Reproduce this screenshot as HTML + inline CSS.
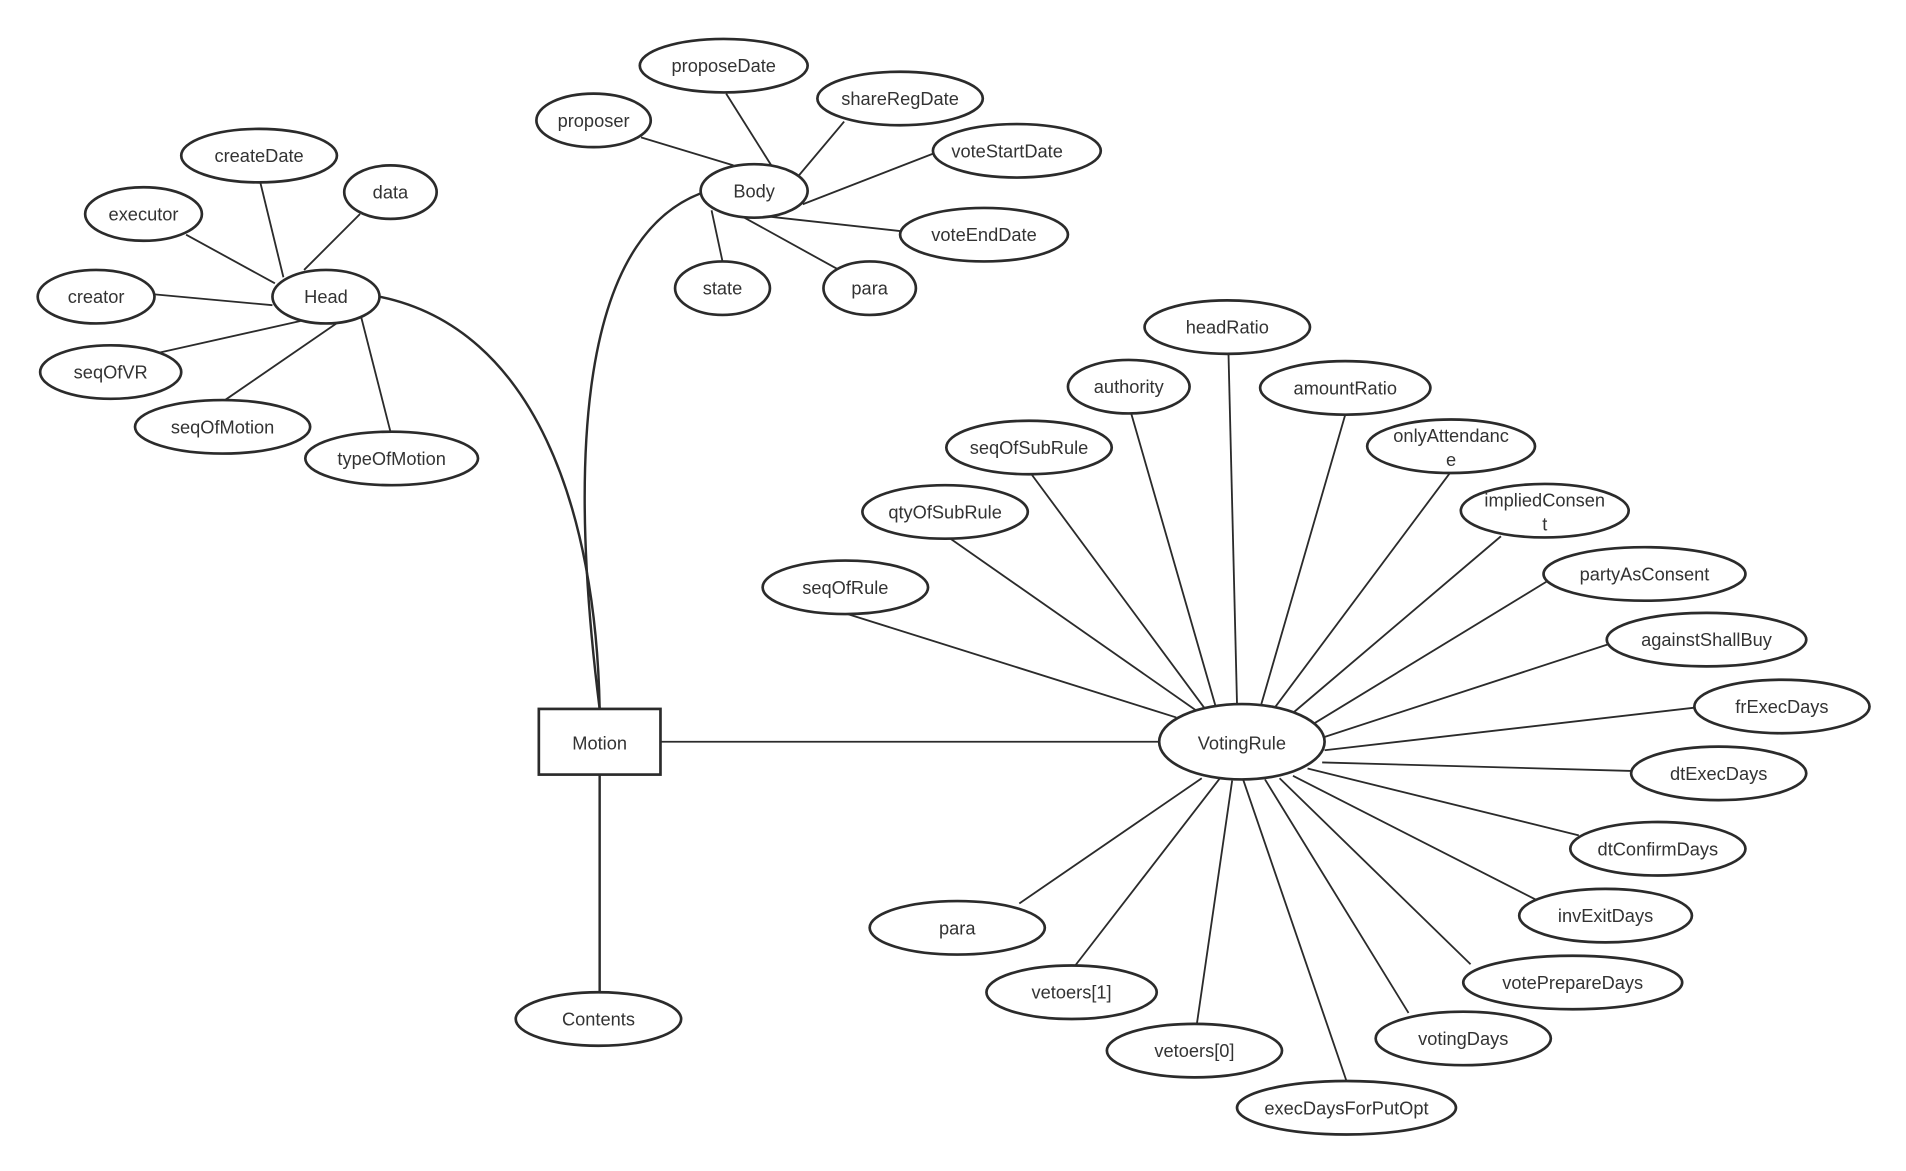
<!DOCTYPE html>
<html><head><meta charset="utf-8"><style>
html,body{margin:0;padding:0;background:#fff;}
svg{display:block;}
text{font-family:"Liberation Sans",sans-serif;font-size:15px;fill:#333;text-anchor:middle;dominant-baseline:central;}
</style></head><body>
<svg width="1906" height="1171" viewBox="0 0 1567 963" preserveAspectRatio="none" xmlns="http://www.w3.org/2000/svg">
<g stroke="#2b2b2b" stroke-width="1.5" fill="none">
<line x1="214" y1="150" x2="233" y2="228"/>
<line x1="296" y1="176" x2="250" y2="222"/>
<line x1="153" y1="193" x2="226" y2="233"/>
<line x1="126" y1="242" x2="224" y2="251"/>
<line x1="131" y1="290" x2="247" y2="264"/>
<line x1="185" y1="329" x2="278" y2="265"/>
<line x1="321" y1="355" x2="297" y2="261"/>
<path d="M312,244 C440,270 490,420 493,583" stroke-width="2"/>
<path d="M576,159 C470,200 470,400 493,583" stroke-width="2"/>
<line x1="527" y1="113" x2="603" y2="136"/>
<line x1="597" y1="77" x2="636" y2="139"/>
<line x1="694" y1="100" x2="657" y2="144"/>
<line x1="768" y1="126" x2="660" y2="168"/>
<line x1="740" y1="190" x2="631" y2="178"/>
<line x1="594" y1="215" x2="585" y2="173"/>
<line x1="688" y1="221" x2="612" y2="179"/>
<line x1="493" y1="637" x2="493" y2="816" stroke-width="2"/>
<line x1="543" y1="610" x2="954" y2="610"/>
<line x1="1010" y1="291" x2="1017" y2="579"/>
<line x1="930" y1="340" x2="1000" y2="583"/>
<line x1="1106" y1="341" x2="1037" y2="579"/>
<line x1="848" y1="390" x2="990" y2="582"/>
<line x1="1192" y1="389" x2="1048" y2="582"/>
<line x1="780" y1="442" x2="983" y2="584"/>
<line x1="1234" y1="441" x2="1061" y2="588"/>
<line x1="697" y1="505" x2="967" y2="590"/>
<line x1="1272" y1="478" x2="1077" y2="597"/>
<line x1="1328" y1="528" x2="1086" y2="607"/>
<line x1="1393" y1="582" x2="1089" y2="617"/>
<line x1="1341" y1="634" x2="1087" y2="627"/>
<line x1="1298" y1="687" x2="1075" y2="632"/>
<line x1="1263" y1="740" x2="1063" y2="638"/>
<line x1="1209" y1="793" x2="1052" y2="640"/>
<line x1="1158" y1="833" x2="1040" y2="641"/>
<line x1="1107" y1="889" x2="1022" y2="641"/>
<line x1="984" y1="842" x2="1013" y2="642"/>
<line x1="884" y1="794" x2="1003" y2="640"/>
<line x1="838" y1="743" x2="988" y2="640"/>
</g>
<g stroke="#2b2b2b" stroke-width="2.2" fill="#fff">
<rect x="443" y="583" width="100" height="54"/>
<ellipse cx="268" cy="244" rx="44" ry="22"/>
<ellipse cx="213" cy="128" rx="64" ry="22"/>
<ellipse cx="321" cy="158" rx="38" ry="22"/>
<ellipse cx="118" cy="176" rx="48" ry="22"/>
<ellipse cx="79" cy="244" rx="48" ry="22"/>
<ellipse cx="91" cy="306" rx="58" ry="22"/>
<ellipse cx="183" cy="351" rx="72" ry="22"/>
<ellipse cx="322" cy="377" rx="71" ry="22"/>
<ellipse cx="620" cy="157" rx="44" ry="22"/>
<ellipse cx="488" cy="99" rx="47" ry="22"/>
<ellipse cx="595" cy="54" rx="69" ry="22"/>
<ellipse cx="740" cy="81" rx="68" ry="22"/>
<ellipse cx="836" cy="124" rx="69" ry="22"/>
<ellipse cx="809" cy="193" rx="69" ry="22"/>
<ellipse cx="594" cy="237" rx="39" ry="22"/>
<ellipse cx="715" cy="237" rx="38" ry="22"/>
<ellipse cx="492" cy="838" rx="68" ry="22"/>
<ellipse cx="1021" cy="610" rx="68" ry="31"/>
<ellipse cx="1009" cy="269" rx="68" ry="22"/>
<ellipse cx="928" cy="318" rx="50" ry="22"/>
<ellipse cx="1106" cy="319" rx="70" ry="22"/>
<ellipse cx="846" cy="368" rx="68" ry="22"/>
<ellipse cx="1193" cy="367" rx="69" ry="22"/>
<ellipse cx="777" cy="421" rx="68" ry="22"/>
<ellipse cx="1270" cy="420" rx="69" ry="22"/>
<ellipse cx="695" cy="483" rx="68" ry="22"/>
<ellipse cx="1352" cy="472" rx="83" ry="22"/>
<ellipse cx="1403" cy="526" rx="82" ry="22"/>
<ellipse cx="1465" cy="581" rx="72" ry="22"/>
<ellipse cx="1413" cy="636" rx="72" ry="22"/>
<ellipse cx="1363" cy="698" rx="72" ry="22"/>
<ellipse cx="1320" cy="753" rx="71" ry="22"/>
<ellipse cx="1293" cy="808" rx="90" ry="22"/>
<ellipse cx="1203" cy="854" rx="72" ry="22"/>
<ellipse cx="1107" cy="911" rx="90" ry="22"/>
<ellipse cx="982" cy="864" rx="72" ry="22"/>
<ellipse cx="881" cy="816" rx="70" ry="22"/>
<ellipse cx="787" cy="763" rx="72" ry="22"/>
</g>
<g>
<text x="493" y="611">Motion</text>
<text x="268" y="244">Head</text>
<text x="213" y="128">createDate</text>
<text x="321" y="158">data</text>
<text x="118" y="176">executor</text>
<text x="79" y="244">creator</text>
<text x="91" y="306">seqOfVR</text>
<text x="183" y="351">seqOfMotion</text>
<text x="322" y="377">typeOfMotion</text>
<text x="620" y="157">Body</text>
<text x="488" y="99">proposer</text>
<text x="595" y="54">proposeDate</text>
<text x="740" y="81">shareRegDate</text>
<text x="828" y="124">voteStartDate</text>
<text x="809" y="193">voteEndDate</text>
<text x="594" y="237">state</text>
<text x="715" y="237">para</text>
<text x="492" y="838">Contents</text>
<text x="1021" y="611">VotingRule</text>
<text x="1009" y="269">headRatio</text>
<text x="928" y="318">authority</text>
<text x="1106" y="319">amountRatio</text>
<text x="846" y="368">seqOfSubRule</text>
<text x="1193" y="358">onlyAttendanc</text>
<text x="1193" y="378">e</text>
<text x="777" y="421">qtyOfSubRule</text>
<text x="1270" y="411">impliedConsen</text>
<text x="1270" y="431">t</text>
<text x="695" y="483">seqOfRule</text>
<text x="1352" y="472">partyAsConsent</text>
<text x="1403" y="526">againstShallBuy</text>
<text x="1465" y="581">frExecDays</text>
<text x="1413" y="636">dtExecDays</text>
<text x="1363" y="698">dtConfirmDays</text>
<text x="1320" y="753">invExitDays</text>
<text x="1293" y="808">votePrepareDays</text>
<text x="1203" y="854">votingDays</text>
<text x="1107" y="911">execDaysForPutOpt</text>
<text x="982" y="864">vetoers[0]</text>
<text x="881" y="816">vetoers[1]</text>
<text x="787" y="763">para</text>
</g>
</svg>
</body></html>
